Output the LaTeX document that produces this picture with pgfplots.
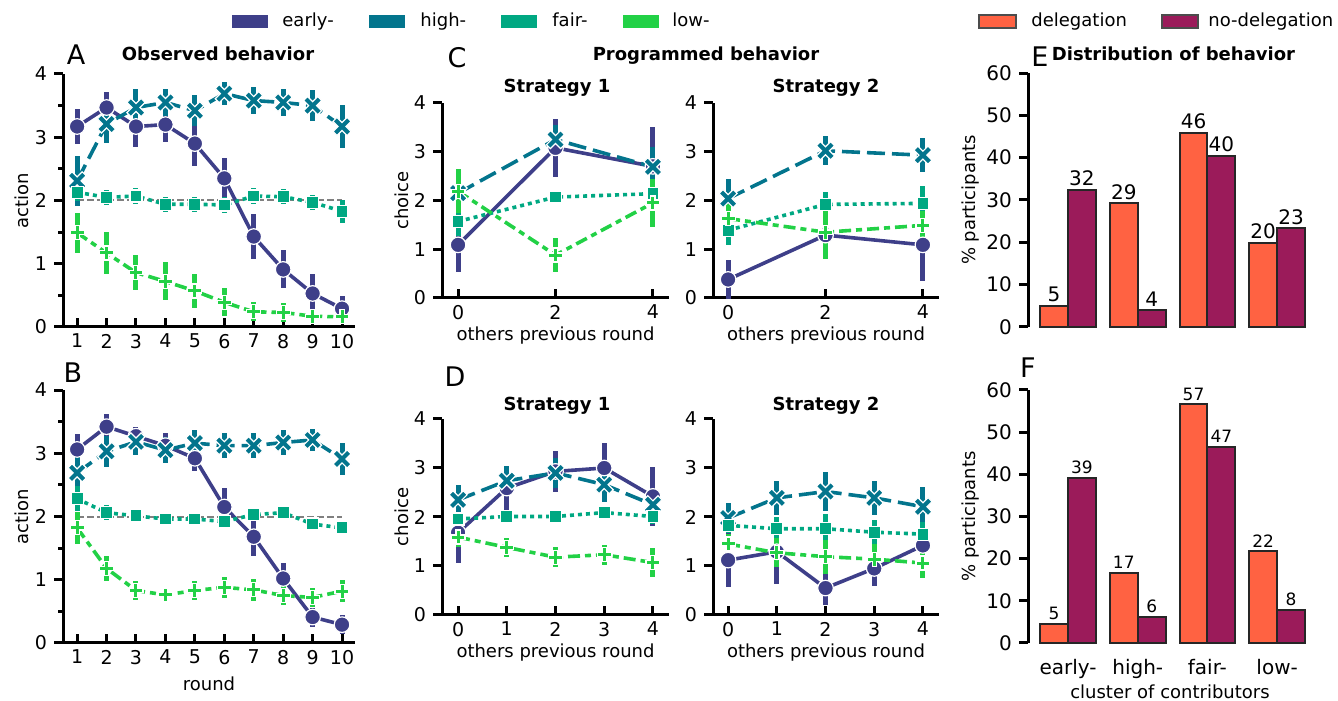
\documentclass[border=0pt]{standalone}
\usepackage{fontspec}
\setmainfont{DejaVu Sans}
\usepackage{pgfplots}
\pgfplotsset{compat=1.18}
\usepackage{pgfplotstable}

\definecolor{cEarly}{HTML}{3E3F89}
\definecolor{cHigh}{HTML}{03758D}
\definecolor{cFair}{HTML}{00A882}
\definecolor{cLow}{HTML}{22D146}
\definecolor{cDel}{HTML}{FF6242}
\definecolor{cNod}{HTML}{9B1B5A}

% filled plus / X marks (seaborn "P" and "X")
\newcommand\plusshape[1]{%
  \pgfpathmoveto{\pgfpoint{#1\pgfplotmarksize}{\pgfplotmarksize}}%
  \pgfpathlineto{\pgfpoint{#1\pgfplotmarksize}{#1\pgfplotmarksize}}%
  \pgfpathlineto{\pgfpoint{\pgfplotmarksize}{#1\pgfplotmarksize}}%
  \pgfpathlineto{\pgfpoint{\pgfplotmarksize}{-#1\pgfplotmarksize}}%
  \pgfpathlineto{\pgfpoint{#1\pgfplotmarksize}{-#1\pgfplotmarksize}}%
  \pgfpathlineto{\pgfpoint{#1\pgfplotmarksize}{-\pgfplotmarksize}}%
  \pgfpathlineto{\pgfpoint{-#1\pgfplotmarksize}{-\pgfplotmarksize}}%
  \pgfpathlineto{\pgfpoint{-#1\pgfplotmarksize}{-#1\pgfplotmarksize}}%
  \pgfpathlineto{\pgfpoint{-\pgfplotmarksize}{-#1\pgfplotmarksize}}%
  \pgfpathlineto{\pgfpoint{-\pgfplotmarksize}{#1\pgfplotmarksize}}%
  \pgfpathlineto{\pgfpoint{-#1\pgfplotmarksize}{#1\pgfplotmarksize}}%
  \pgfpathlineto{\pgfpoint{-#1\pgfplotmarksize}{\pgfplotmarksize}}%
  \pgfpathclose}
\pgfdeclareplotmark{Pf}{\plusshape{0.3}\pgfusepathqfillstroke}
\pgfdeclareplotmark{Xf}{\pgftransformrotate{45}\plusshape{0.28}\pgfusepathqfillstroke}

% observed behavior, delegation (A) and no-delegation (B)
\pgfplotstableread{
x early eE high hE fair fE low lE
1 3.17 0.28 2.31 0.40 2.13 0.14 1.49 0.32
2 3.47 0.25 3.21 0.30 2.05 0.12 1.17 0.33
3 3.17 0.33 3.47 0.30 2.07 0.12 0.86 0.28
4 3.20 0.28 3.55 0.22 1.94 0.12 0.72 0.30
5 2.90 0.35 3.42 0.25 1.94 0.12 0.57 0.27
6 2.35 0.32 3.69 0.18 1.93 0.12 0.39 0.22
7 1.43 0.35 3.58 0.22 2.07 0.12 0.24 0.15
8 0.91 0.30 3.55 0.22 2.06 0.12 0.23 0.15
9 0.53 0.30 3.50 0.25 1.97 0.12 0.17 0.12
10 0.29 0.20 3.17 0.34 1.83 0.18 0.16 0.10
}\tA
\pgfplotstableread{
x early eE high hE fair fE low lE
1 3.06 0.25 2.69 0.35 2.28 0.20 1.82 0.25
2 3.42 0.20 3.03 0.25 2.06 0.12 1.18 0.20
3 3.27 0.15 3.18 0.20 2.01 0.10 0.83 0.15
4 3.12 0.20 3.05 0.20 1.96 0.10 0.76 0.13
5 2.92 0.20 3.16 0.20 1.96 0.10 0.83 0.15
6 2.15 0.30 3.12 0.20 1.92 0.10 0.88 0.17
7 1.68 0.30 3.12 0.20 2.03 0.10 0.84 0.17
8 1.02 0.25 3.17 0.20 2.06 0.10 0.75 0.15
9 0.41 0.15 3.21 0.18 1.88 0.10 0.72 0.15
10 0.29 0.15 2.91 0.25 1.82 0.10 0.82 0.17
}\tB
% programmed behavior
\pgfplotstableread{
x early eE high hE fair fE low lE
0 1.09 0.55 2.15 0.15 1.57 0.30 2.19 0.45
2 3.08 0.60 3.25 0.30 2.07 0.15 0.88 0.35
4 2.70 0.80 2.69 0.40 2.14 0.20 1.95 0.50
}\tCa
\pgfplotstableread{
x early eE high hE fair fE low lE
0 0.38 0.40 2.04 0.40 1.39 0.30 1.63 0.30
2 1.29 0.50 3.02 0.30 1.92 0.25 1.35 0.55
4 1.09 0.75 2.93 0.35 1.94 0.35 1.49 0.30
}\tCb
\pgfplotstableread{
x early eE high hE fair fE low lE
0 1.68 0.62 2.35 0.30 1.96 0.10 1.59 0.20
1 2.59 0.45 2.74 0.30 2.01 0.10 1.38 0.20
2 2.93 0.42 2.90 0.30 2.01 0.10 1.18 0.20
3 3.00 0.52 2.66 0.35 2.09 0.10 1.23 0.20
4 2.42 0.60 2.25 0.30 2.01 0.15 1.07 0.30
}\tDa
\pgfplotstableread{
x early eE high hE fair fE low lE
0 1.12 0.55 1.98 0.30 1.83 0.15 1.45 0.20
1 1.29 0.65 2.39 0.35 1.76 0.25 1.27 0.30
2 0.55 0.35 2.52 0.40 1.76 0.30 1.19 0.35
3 0.95 0.35 2.39 0.35 1.69 0.25 1.14 0.30
4 1.42 0.45 2.21 0.40 1.65 0.25 1.06 0.30
}\tDb
% distribution of behavior (%), bar centres xd / xn
\pgfplotstableread{
xd xn del dl nod nl
-0.2 0.2 5.0 5 32.4 32
0.8 1.2 29.2 29 3.9 4
1.8 2.2 45.8 46 40.4 40
2.8 3.2 19.9 20 23.3 23
}\tE
\pgfplotstableread{
xd xn del dl nod nl
-0.2 0.2 4.6 5 39.1 39
0.8 1.2 16.7 17 6.2 6
1.8 2.2 56.6 57 46.6 47
2.8 3.2 21.7 22 7.9 8
}\tF

\pgfplotsset{
  panel/.style={scale only axis, anchor=south west, axis lines*=left,
    axis line style={line width=1.5pt},
    tick style={line width=1.5pt, black},
    major tick length=4.5pt, minor tick length=2.5pt,
    tick align=outside, xtick align=inside,
    clip=false,
    tick label style={font=\fontsize{9.5}{11}\selectfont},
    label style={font=\fontsize{9}{11}\selectfont},
    /pgf/number format/assume math mode=true},
  ln/.style={line width=1.8pt,
    error bars/y dir=both, error bars/y explicit, error bars/error mark=none,
    error bars/error bar style={line width=2.5pt, solid}},
  sEarly/.style={ln, cEarly, solid, mark=*, mark size=3.9pt,
    mark options={solid, fill=cEarly, draw=white, line width=0.6pt}},
  sHigh/.style={ln, cHigh, dash pattern=on 9pt off 3.5pt, mark=Xf, mark size=5pt,
    mark options={solid, fill=cHigh, draw=white, line width=0.6pt}},
  sFair/.style={ln, cFair, dash pattern=on 2pt off 2pt, mark=square*, mark size=3pt,
    mark options={solid, fill=cFair, draw=white, line width=0.6pt}},
  sLow/.style={ln, cLow, dash pattern=on 6pt off 2.5pt on 3pt off 2.5pt, mark=Pf, mark size=3.5pt,
    mark options={solid, fill=cLow, draw=white, line width=0.6pt}},
  bars/.style={ybar, bar width=0.4, bar shift=0pt, draw=black!85, line width=1pt,
    nodes near coords, point meta=explicit symbolic,
    every node near coord/.append style={inner sep=1.5pt, anchor=south, black}},
}
\newcommand\fourseries[1]{%
  \addplot[sEarly] table[x=x,y=early,y error=eE]{#1};
  \addplot[sHigh] table[x=x,y=high,y error=hE]{#1};
  \addplot[sFair] table[x=x,y=fair,y error=fE]{#1};
  \addplot[sLow] table[x=x,y=low,y error=lE]{#1};}

\begin{document}
\begin{tikzpicture}
\useasboundingbox (0,0) rectangle (669pt,350.5pt);

% A
\begin{axis}[panel, at={(31.5pt,187pt)}, width=146pt, height=126.5pt,
  xmin=0.52, xmax=10.44, ymin=0, ymax=4, xtick={1,...,10}, ytick={0,...,4},
  minor y tick num=1, ylabel={action},
  ylabel style={at={(axis description cs:-0.142,0.5)}, anchor=center}]
\addplot[gray, line width=1pt, dash pattern=on 3.5pt off 1.5pt] coordinates {(1,2) (10,2)};
\fourseries{\tA}
\end{axis}

% B
\begin{axis}[panel, at={(31.5pt,29pt)}, width=146pt, height=126.5pt,
  xmin=0.52, xmax=10.44, ymin=0, ymax=4, xtick={1,...,10}, ytick={0,...,4},
  minor y tick num=1, ylabel={action}, xlabel={round},
  ylabel style={at={(axis description cs:-0.142,0.5)}, anchor=center},
  xlabel style={at={(axis description cs:0.5,0)}, anchor=base, yshift=-23.5pt}]
\addplot[gray, line width=1pt, dash pattern=on 3.5pt off 1.5pt] coordinates {(1,2) (10,2)};
\fourseries{\tB}
\end{axis}

% C
\begin{axis}[panel, at={(221pt,201.5pt)}, width=113.5pt, height=97.5pt,
  xmin=-0.33, xmax=4.33, ymin=0, ymax=4, xtick={0,2,4}, ytick={0,...,4},
  ylabel={choice}, xlabel={others previous round},
  ylabel style={at={(axis description cs:-0.176,0.5)}, anchor=center},
  xlabel style={at={(axis description cs:0.5,0)}, anchor=base, yshift=-21.5pt}]
\fourseries{\tCa}
\end{axis}
\begin{axis}[panel, at={(356.5pt,201.5pt)}, width=113pt, height=97.5pt,
  xmin=-0.31, xmax=4.33, ymin=0, ymax=4, xtick={0,2,4}, ytick={0,...,4},
  xlabel={others previous round},
  xlabel style={at={(axis description cs:0.5,0)}, anchor=base, yshift=-21.5pt}]
\fourseries{\tCb}
\end{axis}

% D
\begin{axis}[panel, at={(221pt,43pt)}, width=113.5pt, height=98pt,
  xmin=-0.33, xmax=4.33, ymin=0, ymax=4, xtick={0,...,4}, ytick={0,...,4},
  ylabel={choice}, xlabel={others previous round},
  ylabel style={at={(axis description cs:-0.176,0.5)}, anchor=center},
  xlabel style={at={(axis description cs:0.5,0)}, anchor=base, yshift=-21.5pt}]
\fourseries{\tDa}
\end{axis}
\begin{axis}[panel, at={(356.5pt,43pt)}, width=113pt, height=98pt,
  xmin=-0.31, xmax=4.33, ymin=0, ymax=4, xtick={0,...,4}, ytick={0,...,4},
  xlabel={others previous round},
  xlabel style={at={(axis description cs:0.5,0)}, anchor=base, yshift=-21.5pt}]
\fourseries{\tDb}
\end{axis}

% E
\begin{axis}[panel, at={(514pt,187pt)}, width=142pt, height=127pt,
  xmin=-0.574, xmax=3.5, ymin=0, ymax=60, ytick={0,10,...,60}, xtick=\empty,
  x axis line style={draw=none},
  tick label style={font=\fontsize{10}{12}\selectfont},
  ylabel={\% participants},
  ylabel style={at={(axis description cs:-0.204,0.5)}, anchor=center},
  nodes near coords style={font=\fontsize{10}{12}\selectfont}]
\addplot[bars, fill=cDel] table[x=xd,y=del,meta=dl]{\tE};
\addplot[bars, fill=cNod] table[x=xn,y=nod,meta=nl]{\tE};
\end{axis}

% F
\begin{axis}[panel, at={(514pt,29pt)}, width=142pt, height=126.5pt,
  xmin=-0.574, xmax=3.5, ymin=0, ymax=60, ytick={0,10,...,60},
  xtick={0,1,2,3}, xticklabels={early-,high-,fair-,low-},
  xtick style={draw=none}, x axis line style={draw=none},
  xticklabel style={yshift=-4.5pt},
  tick label style={font=\fontsize{10}{12}\selectfont},
  ylabel={\% participants}, xlabel={cluster of contributors},
  ylabel style={at={(axis description cs:-0.204,0.5)}, anchor=center},
  xlabel style={at={(axis description cs:0.5,0)}, anchor=base, yshift=-27.5pt},
  nodes near coords style={font=\fontsize{8.5}{10}\selectfont}]
\addplot[bars, fill=cDel] table[x=xd,y=del,meta=dl]{\tF};
\addplot[bars, fill=cNod] table[x=xn,y=nod,meta=nl]{\tF};
\end{axis}

% titles and panel letters
\begin{scope}[every node/.style={font=\bfseries\fontsize{9}{11}\selectfont, anchor=base}]
\node at (109pt,320pt) {Observed behavior};
\node at (353pt,320pt) {Programmed behavior};
\node at (586.75pt,320pt) {Distribution of behavior};
\node at (278.5pt,304pt) {Strategy 1};
\node at (413pt,304pt) {Strategy 2};
\node at (278.5pt,145pt) {Strategy 1};
\node at (413pt,145pt) {Strategy 2};
\end{scope}
\begin{scope}[every node/.style={font=\fontsize{13.5}{16}\selectfont, anchor=base, inner sep=0pt}]
\node at (38pt,318pt) {A};
\node at (36.5pt,159pt) {B};
\node at (228.5pt,316.5pt) {C};
\node at (227.5pt,157pt) {D};
\node at (520pt,317pt) {E};
\node at (514pt,161.5pt) {F};
\end{scope}

% legend
\begin{scope}[every node/.style={font=\fontsize{9}{11}\selectfont, anchor=base west, inner sep=0pt}]
\fill[cEarly] (116pt,336.5pt) rectangle (134pt,343pt);
\node at (141pt,337pt) {early-};
\fill[cHigh] (184.5pt,336.5pt) rectangle (202.5pt,343pt);
\node at (210pt,337pt) {high-};
\fill[cFair] (250.5pt,336.5pt) rectangle (268.5pt,343pt);
\node at (276pt,337pt) {fair-};
\fill[cLow] (311.5pt,336.5pt) rectangle (329.5pt,343pt);
\node at (336pt,337pt) {low-};
\filldraw[fill=cDel, draw=black!70, line width=0.8pt] (489.5pt,336.5pt) rectangle (508pt,343pt);
\node at (515.5pt,337pt) {delegation};
\filldraw[fill=cNod, draw=black!70, line width=0.8pt] (581pt,336.5pt) rectangle (599pt,343pt);
\node at (604pt,337pt) {no-delegation};
\end{scope}
\end{tikzpicture}
\end{document}
